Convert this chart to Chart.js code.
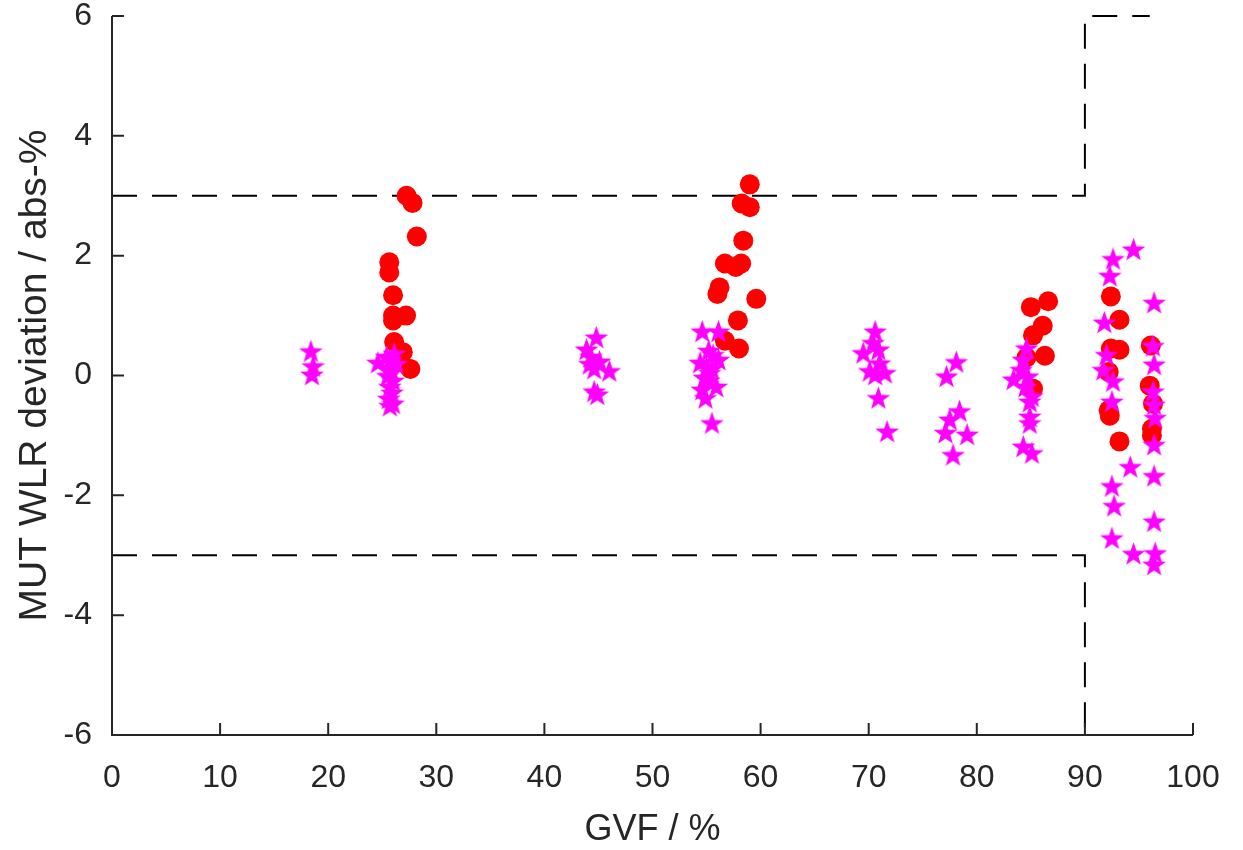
<!DOCTYPE html>
<html lang="en">
<head>
  <meta charset="UTF-8">
  <title>MUT WLR deviation vs GVF</title>
  <script src="https://cdn.jsdelivr.net/npm/chart.js@4"></script>
  <style>
    html, body { margin: 0; padding: 0; background: #fff; }
    #wrap { width: 1243px; height: 850px; }
  </style>
</head>
<body>
  <div id="wrap"><canvas id="grafico" width="1243" height="850"></canvas></div>
  <script>
    // circle series (red)
    const circleGvf = [27.25, 27.8, 28.2, 25.65, 25.65, 26.0, 26.0, 27.2, 26.0, 26.1, 26.9, 27.6,
      59.0, 58.25, 59.0, 58.4, 56.7, 58.2, 57.7, 56.2, 56.0, 59.6, 57.9, 56.7, 58.0,
      86.6, 85.0, 86.1, 85.2, 86.3, 84.6, 85.2,
      92.4, 93.2, 92.4, 93.2, 96.1, 92.2, 96.0, 96.3, 92.2, 92.3, 96.2, 96.2, 93.2];
    const circleDev = [3.0, 2.88, 2.32, 1.89, 1.72, 1.34, 1.0, 1.0, 0.92, 0.56, 0.39, 0.11,
      3.19, 2.87, 2.81, 2.25, 1.87, 1.87, 1.81, 1.47, 1.36, 1.28, 0.92, 0.58, 0.45,
      1.24, 1.14, 0.83, 0.67, 0.33, 0.30, -0.22,
      1.32, 0.93, 0.45, 0.43, 0.50, 0.06, -0.17, -0.47, -0.58, -0.67, -0.89, -1.0, -1.1];

    // star series (magenta)
    const starGvf = [18.4, 18.6, 18.5,
      24.6, 25.4, 25.8, 26.1, 25.6, 25.9, 25.5, 26.0, 25.7, 25.9, 25.6, 26.0, 25.7, 26.3,
      43.9, 44.8, 44.3, 44.2, 45.1, 44.6, 46.0, 44.9, 44.6,
      54.6, 56.1, 55.2, 55.6, 54.4, 56.1, 55.0, 55.5, 55.3, 54.8, 55.9, 54.6, 54.9, 55.5, 55.2,
      70.6, 70.4, 70.9, 69.5, 71.0, 70.1, 71.5, 70.6, 70.9, 71.7,
      78.1, 77.2, 78.4, 77.5, 77.1, 79.1, 77.8,
      84.6, 84.3, 84.1, 83.4, 84.7, 84.5, 85.1, 84.9, 84.9, 84.9, 84.3, 85.1,
      94.5, 92.6, 92.3, 96.4, 91.8, 96.3, 92.0, 96.4, 91.7, 92.6, 96.3, 92.5, 96.4, 96.5,
      96.4, 94.2, 96.4, 92.5, 92.7, 96.4, 92.5, 94.5, 96.5, 96.4];
    const starDev = [0.39, 0.14, 0.0,
      0.2, 0.3, 0.25, 0.35, 0.12, 0.05, -0.02, -0.1, -0.2, -0.3, -0.4, -0.48, -0.52, 0.18,
      0.42, 0.62, 0.3, 0.18, 0.22, 0.1, 0.06, -0.33, -0.28,
      0.72, 0.72, 0.4, 0.33, 0.2, 0.25, 0.12, 0.1, 0.03, -0.05, -0.2, -0.25, -0.39, -0.81, -0.1,
      0.72, 0.53, 0.42, 0.36, 0.19, 0.06, 0.03, 0.0, -0.39, -0.95,
      0.21, -0.03, -0.61, -0.75, -0.97, -1.0, -1.34,
      0.44, 0.25, 0.08, -0.08, -0.03, -0.2, -0.36, -0.45, -0.7, -0.81, -1.2, -1.31,
      2.09, 1.93, 1.65, 1.2, 0.87, 0.48, 0.33, 0.17, 0.08, -0.11, -0.28, -0.45, -0.5, -0.72,
      -1.17, -1.54, -1.69, -1.86, -2.19, -2.45, -2.73, -2.99, -2.98, -3.17];

    // limit lines (dashed)
    const limitGvf = [0, 90, 90, 96];
    const limitUpper = [3, 3, 6, 6];
    const limitLower = [-3, -3, -6, -6];

    const xTicks = [0, 10, 20, 30, 40, 50, 60, 70, 80, 90, 100];
    const yTicks = [-6, -4, -2, 0, 2, 4, 6];

    const zip = (xs, ys) => xs.map((x, i) => ({ x: x, y: ys[i] }));

    // filled five-point star as point image
    function estrela(r, cor) {
      const c = document.createElement('canvas');
      const s = Math.ceil(r * 2 + 2);
      c.width = s; c.height = s;
      const g = c.getContext('2d');
      g.translate(s / 2, s / 2);
      g.beginPath();
      for (let i = 0; i < 10; i++) {
        const rr = i % 2 === 0 ? r : r * 0.4;
        const a = -Math.PI / 2 + i * Math.PI / 5;
        g.lineTo(rr * Math.cos(a), rr * Math.sin(a));
      }
      g.closePath();
      g.fillStyle = cor;
      g.fill();
      return c;
    }
    const starImg = estrela(12.5, '#ff00ff');

    const corEixo = '#262626';
    const fonte = '"Liberation Sans", Arial, Helvetica, sans-serif';

    // axis lines and inward ticks
    const eixos = {
      id: 'eixos',
      afterDraw(chart) {
        const { ctx, chartArea: a, scales: { x, y } } = chart;
        ctx.save();
        ctx.strokeStyle = corEixo;
        ctx.lineWidth = 2;
        ctx.beginPath();
        ctx.moveTo(a.left, a.top);
        ctx.lineTo(a.left, a.bottom);
        ctx.lineTo(a.right, a.bottom);
        xTicks.forEach(v => {
          const px = x.getPixelForValue(v);
          ctx.moveTo(px, a.bottom);
          ctx.lineTo(px, a.bottom - 12);
        });
        yTicks.forEach(v => {
          const py = y.getPixelForValue(v);
          ctx.moveTo(a.left, py);
          ctx.lineTo(a.left + 12, py);
        });
        ctx.stroke();
        ctx.restore();
      }
    };

    const linhaLimite = (data) => ({
      type: 'line',
      data: data,
      borderColor: '#000',
      borderWidth: 2,
      borderDash: [25, 15],
      pointRadius: 0,
      fill: false,
      showLine: true,
      tension: 0,
      clip: false,
      order: 2
    });

    new Chart(document.getElementById('grafico'), {
      type: 'scatter',
      data: {
        datasets: [
          {
            data: zip(starGvf, starDev),
            pointStyle: starImg,
            pointRadius: 12,
            pointHoverRadius: 12,
            order: 0
          },
          {
            data: zip(circleGvf, circleDev),
            pointStyle: 'circle',
            pointRadius: 10,
            pointHoverRadius: 10,
            backgroundColor: '#ff0000',
            borderColor: '#ff0000',
            borderWidth: 0,
            order: 1
          },
          linhaLimite(zip(limitGvf, limitUpper)),
          linhaLimite(zip(limitGvf, limitLower))
        ]
      },
      options: {
        responsive: false,
        animation: false,
        events: [],
        layout: { padding: { top: 0, right: 50, left: 0, bottom: 0 } },
        plugins: { legend: { display: false }, tooltip: { enabled: false } },
        scales: {
          x: {
            type: 'linear',
            min: 0, max: 100,
            grid: { display: false },
            border: { display: false },
            afterBuildTicks: s => { s.ticks = xTicks.map(v => ({ value: v })); },
            afterFit: s => { s.height = 115; },
            ticks: { color: corEixo, font: { family: fonte, size: 32 }, padding: 16, maxRotation: 0 },
            title: { display: true, text: 'GVF / %', color: corEixo, font: { family: fonte, size: 36, lineHeight: 1.1 }, padding: { top: 0, bottom: 0 } }
          },
          y: {
            type: 'linear',
            min: -6, max: 6,
            grid: { display: false },
            border: { display: false },
            afterBuildTicks: s => { s.ticks = yTicks.map(v => ({ value: v })); },
            afterFit: s => { s.width = 112; s.paddingTop = 16; s.paddingBottom = 0; },
            ticks: { color: corEixo, font: { family: fonte, size: 32, lineHeight: 1 }, padding: 12 },
            title: { display: true, text: 'MUT WLR deviation / abs-%', color: corEixo, font: { family: fonte, size: 39, lineHeight: 1 }, padding: { top: 16, bottom: 0 } }
          }
        }
      },
      plugins: [eixos]
    });
  </script>
</body>
</html>
